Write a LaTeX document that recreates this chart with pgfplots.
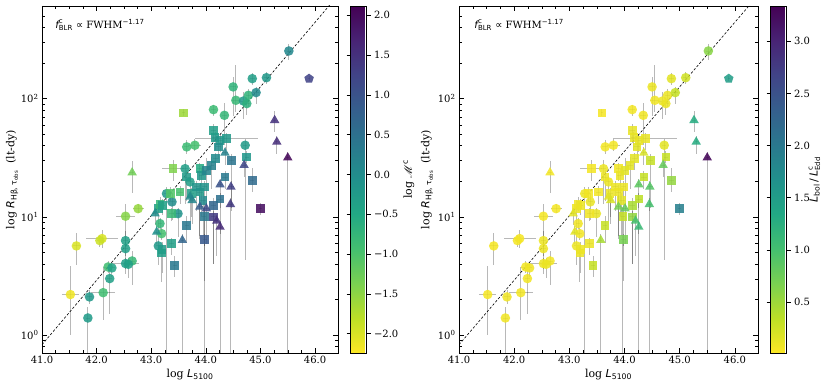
\documentclass[border=0pt]{standalone}
\usepackage{fontspec}
\setmainfont{DejaVu Serif}
\newfontfamily\dvs{DejaVu Sans}
\usepackage{mathrsfs}
\usepackage{pgfplots}
\usepackage{pgfplotstable}
\pgfplotsset{compat=1.18}
\usetikzlibrary{plotmarks}

\pgfplotsset{
  colormap={viridisr}{rgb255=(253,231,37) rgb255=(189,223,38) rgb255=(122,209,81) rgb255=(68,191,112) rgb255=(34,168,132) rgb255=(33,145,140) rgb255=(42,120,142) rgb255=(53,95,141) rgb255=(65,68,135) rgb255=(72,36,117) rgb255=(68,1,84)},
  myax/.style={
    scale only axis, height=347pt,
    xmin=41, xmax=46.42, ymin=-0.15, ymax=2.783,
    xtick={41,42,43,44,45,46}, xticklabels={41.0,42.0,43.0,44.0,45.0,46.0},
    minor x tick num=3,
    ytick={0,1,2}, yticklabels={10\textsuperscript{0},10\textsuperscript{1},10\textsuperscript{2}},
    minor ytick={-0.0969,-0.0458,0.30103,0.47712,0.60206,0.69897,0.77815,0.8451,0.90309,0.95424,1.30103,1.47712,1.60206,1.69897,1.77815,1.8451,1.90309,1.95424,2.30103,2.47712,2.60206,2.69897,2.77815},
    tick align=inside, tick pos=both,
    major tick length=5pt, minor tick length=2.8pt,
    every tick/.style={black, line width=0.5pt},
    axis line style={line width=0.6pt},
    font=\fontsize{10}{12}\selectfont,
    xlabel={log {\dvs\itshape L}\textsubscript{\dvs 5100}},
    ylabel={log {\dvs\itshape R}\textsubscript{\dvs Hβ, τ\textsubscript{obs}}\hspace{0.6em}(lt-dy)},
    xlabel style={at={(axis description cs:0.5,0)}, anchor=center, yshift=-22pt, font=\fontsize{11}{13}\selectfont},
    ylabel style={anchor=center, font=\fontsize{11}{13}\selectfont},
    clip=true,
    colorbar, colormap name=viridisr,
  },
  cbar/.style={
    at={(parent axis.north east)}, anchor=north west, xshift=4pt,
    width=16pt, height=347pt, scale only axis,
    tick align=outside, major tick length=4pt,
    every tick/.style={black, line width=0.5pt},
    axis line style={line width=0.6pt},
    font=\fontsize{10}{12}\selectfont,
    ylabel style={anchor=center, font=\fontsize{11}{13}\selectfont},
  },
  ebar/.style={draw=none, mark=none, forget plot, error bars/.cd, x dir=both, x explicit, y dir=both, y explicit, error mark=none, error bar style={draw=black, draw opacity=0.28, line width=0.9pt}},
  mk/.style={scatter, only marks, point meta=explicit, fill opacity=0.87, mark options={draw opacity=0, line width=0pt}},
}

% columns: x, log R, x err, log-err minus, log-err plus, log Mdot, L/LEdd
\pgfplotstableread{
x ly xe em ep c1 c2
41.52 0.344 0.15 0.34 0.24 -2.15 0.05
41.63 0.755 0.07 0.16 0.11 -2.0 0.05
42.10 0.817 0.29 0.08 0.07 -2.0 0.05
42.06 0.800 0.05 0.05 0.05 -1.9 0.06
41.84 0.146 0.04 3.00 0.09 -0.25 0.08
41.87 0.324 0.05 0.06 0.06 -0.2 0.08
42.12 0.360 0.22 0.23 0.22 -0.9 0.07
42.24 0.479 0.05 0.30 0.12 -0.35 0.08
42.21 0.577 0.08 0.05 0.05 -0.9 0.07
42.28 0.569 0.05 0.08 0.05 -0.4 0.08
42.53 1.006 0.17 0.25 0.10 -1.45 0.06
42.76 1.070 0.10 0.04 0.04 -1.55 0.06
42.53 0.800 0.04 0.28 0.08 -0.35 0.10
42.53 0.732 0.05 0.06 0.06 -0.3 0.10
42.53 0.606 0.25 0.05 0.05 -0.3 0.10
42.65 0.628 0.06 0.20 0.08 -0.8 0.07
42.58 0.600 0.05 0.12 0.05 -0.35 0.10
43.28 1.197 0.05 3.00 0.06 -0.15 0.10
43.62 1.408 0.05 0.30 0.07 -0.3 0.10
43.65 1.592 0.05 0.06 0.06 -0.85 0.07
43.80 1.606 0.12 0.05 0.05 -0.95 0.07
43.71 1.296 0.05 0.15 0.05 -0.3 0.10
43.38 1.127 0.05 0.15 0.07 0.0 0.12
43.49 1.028 0.05 0.20 0.05 -0.1 0.12
43.16 0.944 0.04 0.05 0.05 -0.75 0.08
43.19 0.859 0.04 0.05 0.05 -0.95 0.07
43.13 0.755 0.04 0.16 0.10 -0.2 0.10
44.14 1.907 0.05 0.05 0.04 -0.85 0.07
44.34 1.859 0.05 0.25 0.10 -0.75 0.08
44.50 2.099 0.05 0.25 0.08 -0.7 0.10
44.55 1.986 0.08 0.10 0.30 -0.8 0.08
44.69 1.980 0.08 0.15 0.08 -0.25 0.10
44.78 2.028 0.05 0.10 0.05 -0.7 0.10
44.75 1.958 0.05 0.10 0.05 -0.65 0.10
44.92 2.051 0.05 0.10 0.05 0.05 0.30
44.85 2.169 0.05 0.05 0.05 -0.3 0.15
45.11 2.177 0.05 0.05 0.05 -0.2 0.25
45.52 2.403 0.04 0.08 0.06 0.1 0.60
44.72 1.606 0.04 0.97 0.05 -0.25 0.15
}\datC

\pgfplotstableread{
x ly xe em ep c1 c2
43.35 1.197 0.05 0.06 0.06 -1.05 0.07
43.40 1.408 0.20 0.10 0.07 -1.4 0.06
43.65 1.338 0.05 0.20 0.06 -0.25 0.10
43.53 1.211 0.05 0.10 0.05 -0.95 0.07
43.74 1.197 0.05 0.20 0.05 -0.3 0.10
43.13 1.070 0.04 0.20 0.07 -0.3 0.10
43.16 1.107 0.04 0.06 0.06 -0.75 0.08
43.21 1.099 0.04 0.08 0.05 -0.35 0.10
43.37 1.028 0.05 0.06 0.05 -0.8 0.08
43.20 0.724 0.04 0.20 0.06 -0.25 0.10
43.19 0.696 0.04 0.25 0.05 -0.3 0.10
43.37 0.775 0.05 0.10 0.05 -0.3 0.10
43.43 0.592 0.04 0.10 0.08 0.35 0.30
43.65 0.930 0.04 0.15 0.08 0.4 0.30
43.89 1.408 0.05 0.10 0.05 -0.55 0.08
43.92 1.352 0.05 0.35 0.05 -0.15 0.10
44.01 1.394 0.05 0.30 0.10 0.15 0.15
44.10 1.437 0.05 0.20 0.07 0.2 0.15
43.89 1.211 0.05 0.40 0.06 -0.2 0.10
43.98 1.254 0.05 0.50 0.05 -0.1 0.10
43.95 1.141 0.05 0.30 0.06 0.05 0.15
44.14 1.099 0.05 0.50 0.06 0.7 0.45
43.97 1.006 0.04 3.00 0.08 0.4 0.30
44.14 1.000 0.05 0.40 0.05 1.35 0.55
43.98 0.808 0.04 0.35 0.05 0.9 0.70
44.17 1.670 0.05 0.10 0.05 -0.2 0.12
44.26 1.648 0.05 0.10 0.05 -0.15 0.12
44.14 1.732 0.05 0.10 0.05 -0.3 0.12
44.38 1.662 0.58 0.10 0.05 -0.2 0.12
44.23 1.592 0.05 0.10 0.05 0.0 0.15
44.18 1.493 0.05 0.10 0.05 0.05 0.15
44.47 1.479 0.05 0.40 0.05 0.45 0.30
44.35 1.338 0.05 0.10 0.05 0.35 0.30
44.26 1.152 0.05 0.30 0.05 0.5 0.35
43.83 1.254 0.05 0.20 0.05 -0.1 0.10
43.59 1.879 0.02 0.03 0.03 -1.6 0.05
44.75 1.507 0.04 0.05 0.05 -0.15 0.30
44.85 1.310 0.04 0.10 0.10 0.6 0.55
45.00 1.070 0.03 0.05 0.05 1.95 1.90
}\datS

\pgfplotstableread{
x ly xe em ep c1 c2
42.65 1.375 0.03 0.17 0.10 -1.3 0.07
43.71 1.169 0.05 0.20 0.05 0.05 0.15
43.75 1.141 0.05 0.20 0.05 0.15 0.20
43.07 1.028 0.05 0.10 0.05 0.0 0.15
43.10 0.873 0.05 0.10 0.05 -0.05 0.15
43.57 0.803 0.03 3.00 0.05 0.7 0.45
43.89 1.085 0.05 0.25 0.10 0.85 0.70
44.01 1.070 0.05 0.30 0.05 1.15 0.80
44.20 0.966 0.05 0.30 0.05 1.5 1.00
44.26 0.915 0.04 3.00 0.05 1.6 1.10
44.35 1.541 0.05 0.10 0.05 0.2 0.20
44.26 1.273 0.05 0.20 0.05 1.0 0.85
44.46 1.254 0.05 0.20 0.05 1.3 0.90
44.45 1.107 0.04 3.00 0.05 1.4 1.00
44.70 1.437 0.04 0.10 0.05 1.2 0.80
45.26 1.817 0.03 0.10 0.08 1.5 1.30
45.30 1.634 0.03 0.10 0.05 1.55 1.30
45.50 1.501 0.03 3.00 0.05 2.05 3.30
}\datT

\pgfplotstableread{
x ly xe em ep c1 c2
45.89 2.169 0.02 0.02 0.02 1.25 1.50
}\datP

\newcommand{\drawdata}[1]{%
  \addplot[mk, mark=*, mark size=4.8pt] table[x=x,y=ly,meta=#1]{\datC};
  \addplot[mk, mark=square*, mark size=4.3pt] table[x=x,y=ly,meta=#1]{\datS};
  \addplot[mk, mark=triangle*, mark size=5.5pt] table[x=x,y=ly,meta=#1]{\datT};
  \addplot[mk, mark=pentagon*, mark size=5pt] table[x=x,y=ly,meta=#1]{\datP};
  \addplot[ebar] table[x=x, y=ly, x error=xe, y error plus=ep, y error minus=em]{\datC};
  \addplot[ebar] table[x=x, y=ly, x error=xe, y error plus=ep, y error minus=em]{\datS};
  \addplot[ebar] table[x=x, y=ly, x error=xe, y error plus=ep, y error minus=em]{\datT};
  \addplot[ebar] table[x=x, y=ly, x error=xe, y error plus=ep, y error minus=em]{\datP};
  \addplot[black, dashed, line width=0.6pt, dash pattern=on 2.5pt off 1.8pt] coordinates {(41,-0.08) (46.42,2.874)};
}

\begin{document}
\begin{tikzpicture}
\begin{axis}[myax, width=296pt, at={(42pt,30pt)}, anchor=south west,
  ylabel style={at={(axis description cs:-0.101,0.5)}},
  point meta min=-2.243, point meta max=2.117,
  colorbar style={cbar,
    ytick={-2,-1.5,-1,-0.5,0,0.5,1,1.5,2},
    yticklabels={−2.0,−1.5,−1.0,−0.5,0.0,0.5,1.0,1.5,2.0},
    ylabel={log \ensuremath{\mathscr{M}}\textsuperscript{\dvs c}},
    ylabel style={at={(axis description cs:3.65,0.5)}}}]
  \drawdata{c1}
  \node[anchor=west, font=\fontsize{10}{12}\selectfont] at (rel axis cs:0.033,0.945) {\(\mbox{\dvs\itshape f}^{\mbox{\dvs\scriptsize c}}_{\mbox{\dvs\scriptsize BLR}}\) {\dvs ∝} FWHM\textsuperscript{\dvs −1.17}};
\end{axis}
\begin{axis}[myax, width=299pt, at={(459pt,30pt)}, anchor=south west,
  ylabel style={at={(axis description cs:-0.107,0.5)}},
  point meta min=0.011, point meta max=3.339,
  colorbar style={cbar,
    ytick={0.5,1,1.5,2,2.5,3},
    yticklabels={0.5,1.0,1.5,2.0,2.5,3.0},
    ylabel={{\dvs\itshape L}\textsubscript{\dvs bol}{\dvs\,/\,}\(\mbox{\dvs\itshape L}^{\mbox{\dvs\scriptsize c}}_{\mbox{\dvs\scriptsize Edd}}\)},
    ylabel style={at={(axis description cs:2.75,0.5)}}}]
  \drawdata{c2}
  \node[anchor=west, font=\fontsize{10}{12}\selectfont] at (rel axis cs:0.04,0.945) {\(\mbox{\dvs\itshape f}^{\mbox{\dvs\scriptsize c}}_{\mbox{\dvs\scriptsize BLR}}\) {\dvs ∝} FWHM\textsuperscript{\dvs −1.17}};
\end{axis}
\pgfresetboundingbox
\path[use as bounding box] (0,0) rectangle (822pt,383pt);
\end{tikzpicture}
\end{document}
